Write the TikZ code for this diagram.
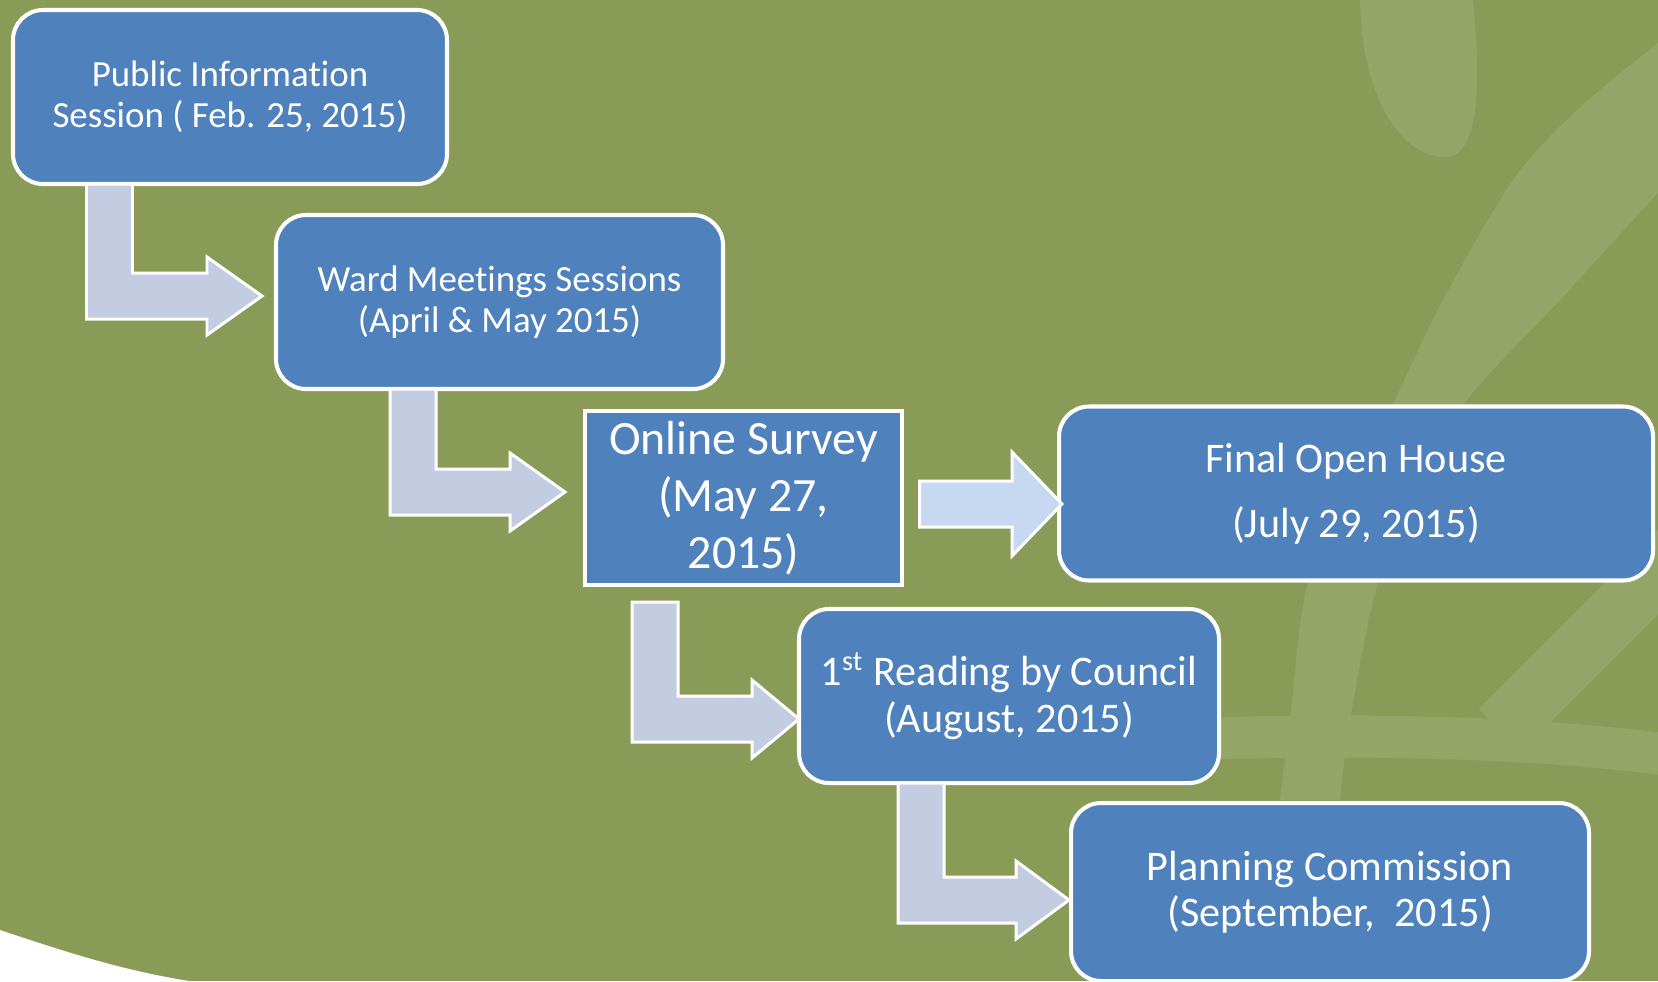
\documentclass[tikz,border=0pt]{standalone}
\usepackage{fontspec}
\setmainfont{Carlito}[Ligatures=NoCommon]
\usepackage{tikz}
\usetikzlibrary{positioning,calc}
\definecolor{slidegreen}{HTML}{8A9B58}
\definecolor{swirlgreen}{HTML}{94A568}
\definecolor{stepblue}{HTML}{4F81BD}
\definecolor{bentfill}{HTML}{C3CCE0}
\definecolor{flatfill}{HTML}{C6D9F1}
\tikzstyle{step box}=[draw=white,line width=1.15pt,fill=stepblue,text=white,align=center,inner sep=0pt,outer sep=0pt,rounded corners=0.3cm,minimum height=1.74cm]
\tikzstyle{block arrow}=[draw=white,line width=0.85pt,fill=bentfill,line join=miter]
\newcommand{\stepnode}[3][]{
  \node [step box, #1] (#2) {#3}
}
% #1 head length, #2 top left of the stem, #3 tip
\newcommand{\bentarrow}[3][0.55cm]{
  \draw[block arrow] let \p1=#2, \p2=#3 in
    (\x1,\y1) -- (\x1+0.46cm,\y1) -- (\x1+0.46cm,\y2+0.23cm) -- (\x2-#1,\y2+0.23cm)
    -- (\x2-#1,\y2+0.39cm) -- (\x2,\y2) -- (\x2-#1,\y2-0.39cm) -- (\x2-#1,\y2-0.23cm)
    -- (\x1,\y2-0.23cm) -- cycle
}
\newcommand{\flatarrow}[2]{
  \draw[block arrow,fill=flatfill] let \p1=#1, \p2=#2 in
    (\x1,\y2+0.23cm) -- (\x2-0.5cm,\y2+0.23cm) -- (\x2-0.5cm,\y2+0.52cm) -- (\x2,\y2)
    -- (\x2-0.5cm,\y2-0.52cm) -- (\x2-0.5cm,\y2-0.23cm) -- (\x1,\y2-0.23cm) -- cycle
}

\begin{document}
\begin{tikzpicture}[node distance=1cm]
  \useasboundingbox (0,0) rectangle (16.58,-9.81);
  % slide background
  \begin{scope}
    \clip (0,0) rectangle (16.58,-9.81);
    \fill[slidegreen] (0,0) rectangle (16.58,-9.81);
    \fill[swirlgreen] (13.60,0) .. controls (13.62,-1.1) and (14.1,-1.60) .. (14.47,-1.57)
      .. controls (14.82,-1.55) and (14.80,-0.7) .. (14.73,0) -- cycle;
    \fill[swirlgreen] plot[smooth] coordinates {(16.7,-0.35) (16.58,-0.43) (15.77,-1.10) (15.13,-1.80)
        (14.43,-3.00) (13.95,-4.00) (13.53,-4.90) (13.07,-5.87) (12.90,-7.20) (12.80,-8.0)}
      -- plot[smooth] coordinates {(13.40,-8.0) (13.50,-7.20) (13.77,-5.87) (14.20,-4.90)
        (14.67,-4.00) (15.60,-3.00) (16.58,-1.93) (16.7,-1.85)} -- cycle;
    \draw[swirlgreen,line width=0.42cm] (12.2,-7.38) .. controls (13.5,-7.35) and (15.2,-7.35) .. (16.7,-7.55);
    \draw[swirlgreen,line width=0.6cm] (16.9,-5.4) -- (15.0,-7.3);
    \fill[white] (0,-9.30) .. controls (0.6,-9.5) and (1.2,-9.7) .. (1.89,-9.81) -- (0,-9.81) -- cycle;
  \end{scope}

  \stepnode[at={(0.13,-0.10)}, anchor=north west, minimum width=4.34cm,
    font=\fontsize{10.5}{11.7}\selectfont]{pubinfo}{Public Information\\Session ( Feb. 25, 2015)};
  \stepnode[below right=0.31cm and 2.63cm of pubinfo.south west, minimum width=4.47cm,
    font=\fontsize{10.5}{11.7}\selectfont]{ward}{Ward Meetings Sessions\\(April \& May 2015)};
  \stepnode[below right=0.22cm and 3.09cm of ward.south west, minimum width=3.17cm, sharp corners,
    font=\fontsize{13.6}{16.2}\selectfont]{survey}{Online Survey\\(May 27,\\2015)};
  \stepnode[right=1.57cm of survey, yshift=0.045cm, minimum width=5.94cm,
    font=\fontsize{12}{18.5}\selectfont]{openhouse}{Final Open House\\(July 29, 2015)};
  \stepnode[below right=0.24cm and 2.14cm of survey.south west, minimum width=4.20cm,
    font=\fontsize{12}{13.4}\selectfont]{reading}{1\textsuperscript{st} Reading by Council\\(August, 2015)};
  \stepnode[below right=0.20cm and 2.72cm of reading.south west, minimum width=5.18cm, minimum height=1.78cm,
    font=\fontsize{12}{13.1}\selectfont]{planning}{Planning Commission\\(September,~ 2015)};

  \bentarrow{($(pubinfo.south west)+(0.735,0)$)}{($(ward.west)+(-0.14,0.06)$)};
  \bentarrow{($(ward.south west)+(1.14,0)$)}{($(survey.west)+(-0.20,0.06)$)};
  \bentarrow[0.47cm]{($(survey.south west)+(0.47,-0.17)$)}{($(reading.west)+(0,-0.23)$)};
  \bentarrow[0.53cm]{($(reading.south west)+(0.99,0)$)}{($(planning.west)+(-0.02,-0.08)$)};
  \flatarrow{($(survey.east)+(0.175,0)$)}{($(openhouse.west)+(0.03,-0.105)$)};
\end{tikzpicture}
\end{document}
